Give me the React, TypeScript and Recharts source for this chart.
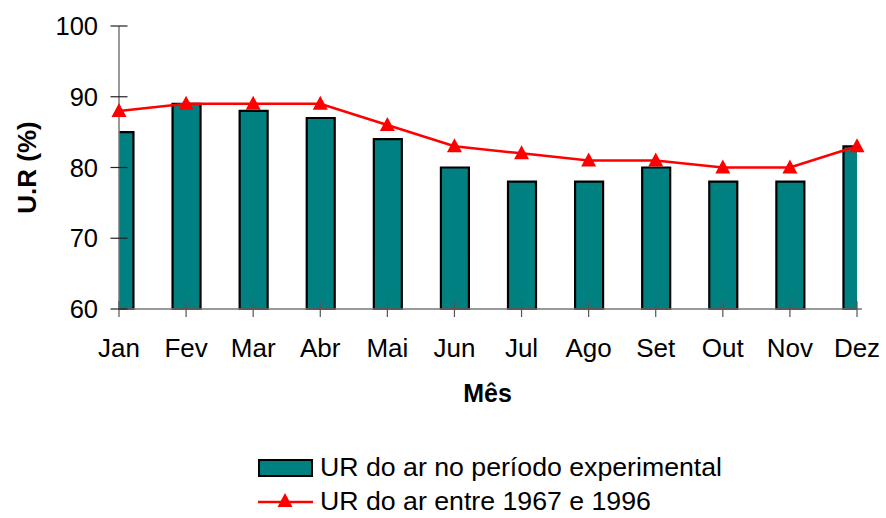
import { Bar, ComposedChart, Label, Line, XAxis, YAxis } from "recharts";

const months = ["Jan", "Fev", "Mar", "Abr", "Mai", "Jun", "Jul", "Ago", "Set", "Out", "Nov", "Dez"];
const urExperimental = [85, 89, 88, 87, 84, 80, 78, 78, 80, 78, 78, 83];
const urHistorico = [88, 89, 89, 89, 86, 83, 82, 81, 81, 80, 80, 83];
const yTicks = [60, 70, 80, 90, 100];

const data = months.map((month, i) => ({
  idx: i,
  month,
  experimental: urExperimental[i],
  historico: urHistorico[i],
}));

const FONT = "'Liberation Sans', Arial, sans-serif";
const TEAL = "#008080";
const RED = "#FF0000";

function Triangle({ cx, cy }: { cx?: number; cy?: number }) {
  if (cx == null || cy == null) return null;
  return (
    <polygon
      points={`${cx},${cy - 8} ${cx - 7.5},${cy + 6} ${cx + 7.5},${cy + 6}`}
      fill={RED}
      stroke="none"
    />
  );
}

function YTick({ x, y, payload }: any) {
  return (
    <g>
      <line x1={x - 8.5} x2={x + 8.5} y1={y} y2={y} stroke="#222" strokeWidth={1.2} />
      <text x={x - 21} y={y} textAnchor="end" dominantBaseline="central" fontFamily={FONT} fontSize={25.5} fill="#000">
        {payload.value}
      </text>
    </g>
  );
}

function XTick({ x, y, payload }: any) {
  return (
    <g>
      <line x1={x} x2={x} y1={y - 8} y2={y + 8} stroke="#555" strokeWidth={1.2} />
      <text x={x} y={y + 48} textAnchor="middle" fontFamily={FONT} fontSize={26} fill="#000">
        {months[payload.value]}
      </text>
    </g>
  );
}

export default function App() {
  return (
    <div style={{ position: "absolute", left: 0, top: 0, width: 886, height: 518, background: "#fff" }}>
      <ComposedChart
        width={886}
        height={518}
        data={data}
        margin={{ top: 26, right: 24, bottom: 109, left: 0 }}
      >
        <XAxis
          xAxisId="bars"
          type="number"
          dataKey="idx"
          domain={[0, months.length - 1]}
          padding={{ left: 0, right: 5 }}
          height={0}
          allowDataOverflow
          hide
        />
        <XAxis
          xAxisId="main"
          type="number"
          dataKey="idx"
          domain={[0, months.length - 1]}
          ticks={data.map((d) => d.idx)}
          interval={0}
          padding={{ left: 0, right: 5 }}
          height={100}
          tickSize={0}
          tickMargin={0}
          tickLine={false}
          axisLine={{ stroke: "#777", strokeWidth: 1.5 }}
          tick={<XTick />}
        >
          <Label
            content={({ viewBox }: any) => (
              <text
                x={viewBox.x + viewBox.width / 2 - 3}
                y={viewBox.y + 93}
                textAnchor="middle"
                fontFamily={FONT}
                fontSize={25}
                fontWeight="bold"
                fill="#000"
              >
                Mês
              </text>
            )}
          />
        </XAxis>
        <YAxis
          type="number"
          domain={[60, 100]}
          ticks={yTicks}
          interval={0}
          width={119}
          tickSize={0}
          tickMargin={0}
          tickLine={false}
          axisLine={{ stroke: "#777", strokeWidth: 1.5 }}
          tick={<YTick />}
        >
          <Label
            content={({ viewBox }: any) => {
              const cx = 27;
              const cy = viewBox.y + viewBox.height / 2;
              return (
                <text
                  x={cx}
                  y={cy}
                  transform={`rotate(-90, ${cx}, ${cy})`}
                  textAnchor="middle"
                  dominantBaseline="central"
                  fontFamily={FONT}
                  fontSize={26}
                  fontWeight="bold"
                  fill="#000"
                >
                  U.R (%)
                </text>
              );
            }}
          />
        </YAxis>
        <Bar
          xAxisId="bars"
          dataKey="experimental"
          name="UR do ar no período experimental"
          barSize={28}
          fill={TEAL}
          stroke="#000"
          strokeWidth={2.2}
          isAnimationActive={false}
        />
        <Line
          xAxisId="main"
          type="linear"
          dataKey="historico"
          name="UR do ar entre 1967 e 1996"
          stroke={RED}
          strokeWidth={2.5}
          dot={<Triangle />}
          activeDot={false}
          isAnimationActive={false}
        />
      </ComposedChart>
      <div style={{ position: "absolute", left: 258, top: 451, fontFamily: FONT, fontSize: 26.7, color: "#000" }}>
        <div style={{ display: "flex", alignItems: "center", height: 33 }}>
          <svg width={56} height={20} style={{ display: "block" }}>
            <rect x={1} y={2} width={53} height={16} fill={TEAL} stroke="#000" strokeWidth={2} />
          </svg>
          <span style={{ marginLeft: 6, whiteSpace: "nowrap" }}>UR do ar no período experimental</span>
        </div>
        <div style={{ display: "flex", alignItems: "center", height: 34 }}>
          <svg width={56} height={20} style={{ display: "block" }}>
            <line x1={0} x2={55} y1={11} y2={11} stroke={RED} strokeWidth={2.5} />
            <Triangle cx={27} cy={10} />
          </svg>
          <span style={{ marginLeft: 6, whiteSpace: "nowrap" }}>UR do ar entre 1967 e 1996</span>
        </div>
      </div>
    </div>
  );
}
